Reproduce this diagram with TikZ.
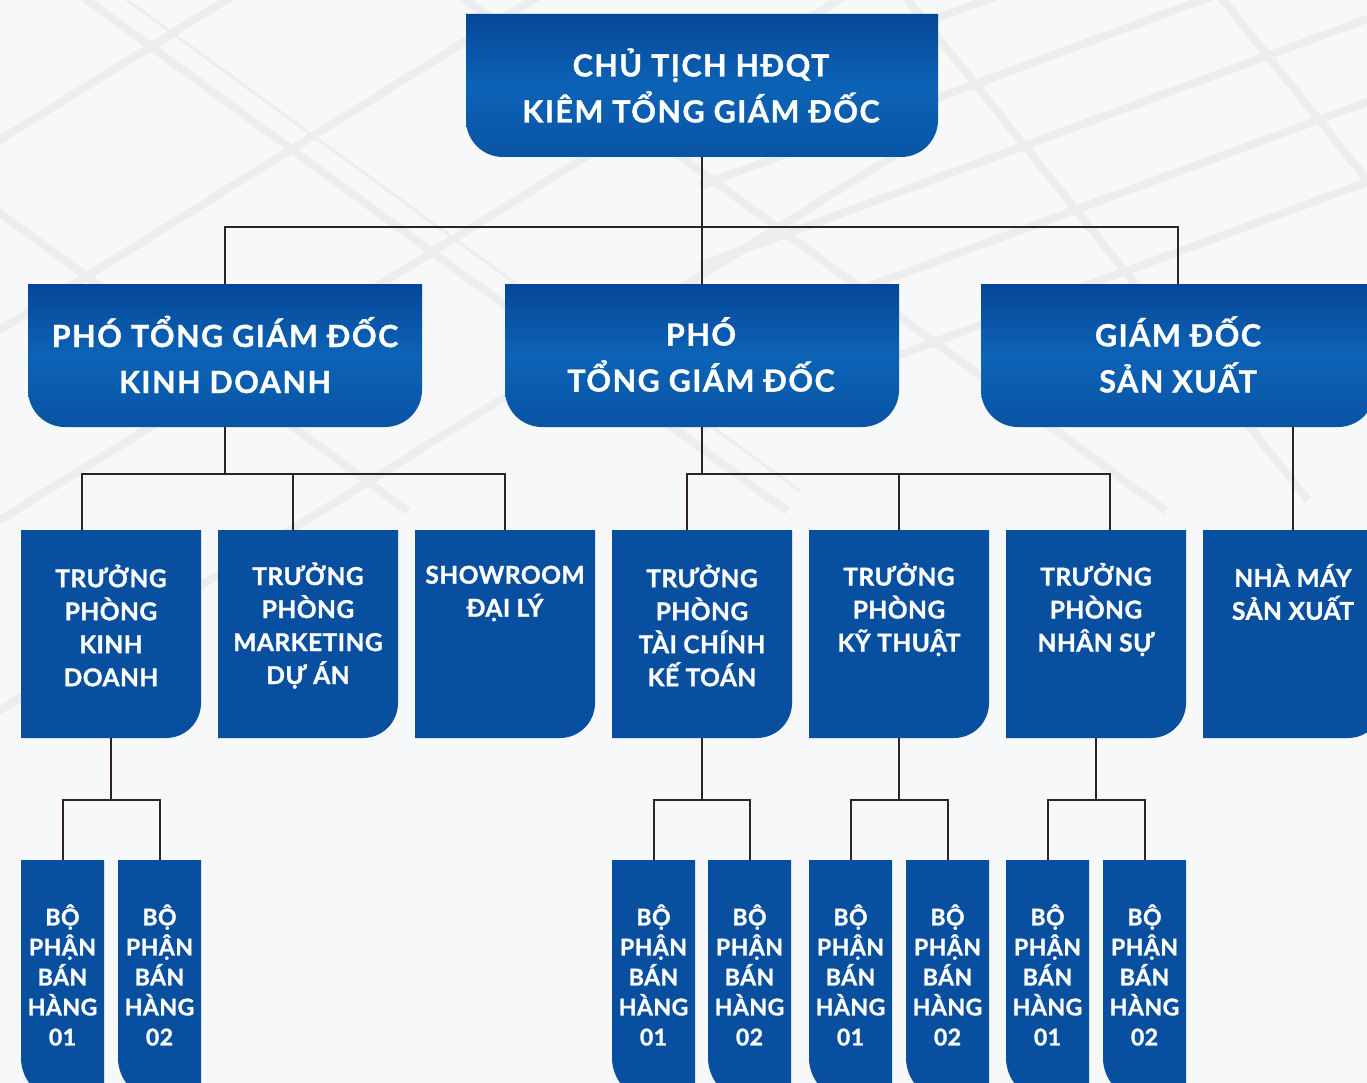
\documentclass[tikz,border=0pt]{standalone}
\usepackage{fontspec}
\setmainfont{Lato}[BoldFeatures={FakeBold=1.2}]
\newfontfamily\bigfont{Lato}[LetterSpace=5,BoldFeatures={FakeBold=1.2}]
\newfontfamily\midfont{Lato}[LetterSpace=2,BoldFeatures={FakeBold=1.2}]
\usetikzlibrary{calc}
\definecolor{bgcol}{RGB}{246,248,250}
\definecolor{beamcol}{RGB}{235,237,238}
\definecolor{boxblue}{RGB}{8,79,160}
\definecolor{gtop}{RGB}{6,70,152}
\definecolor{gmid}{RGB}{12,99,182}
\definecolor{gbot}{RGB}{8,84,164}
\definecolor{linecol}{RGB}{46,36,34}
% bottom-left and bottom-right rounded
\newcommand\orgBB[6]{\path[#1] (#2,#3) -- (#4,#3) -- (#4,#5-#6) .. controls (#4,#5-0.448*#6) and (#4-0.448*#6,#5) .. (#4-#6,#5) -- (#2+#6,#5) .. controls (#2+0.448*#6,#5) and (#2,#5-0.448*#6) .. (#2,#5-#6) -- cycle;}
% bottom-right rounded
\newcommand\orgBR[6]{\path[#1] (#2,#3) -- (#4,#3) -- (#4,#5-#6) .. controls (#4,#5-0.448*#6) and (#4-0.448*#6,#5) .. (#4-#6,#5) -- (#2,#5) -- cycle;}
% bottom-left rounded
\newcommand\orgBL[6]{\path[#1] (#2,#3) -- (#4,#3) -- (#4,#5) -- (#2+#6,#5) .. controls (#2+0.448*#6,#5) and (#2,#5-0.448*#6) .. (#2,#5-#6) -- cycle;}
\begin{document}
\begin{tikzpicture}[x=1pt,y=-1pt,
  gradbox/.style={top color=gtop,bottom color=gbot,middle color=gmid},
  flatbox/.style={fill=boxblue},
  frame/.style={rectangle,inner sep=0pt,outer sep=0pt,draw=none},
  conn/.style={draw=linecol,line width=2pt},
  bigtxt/.style={text=white,align=center,inner sep=0pt,font=\bigfont\bfseries\fontsize{30.5}{46}\selectfont},
  midtxt/.style={text=white,align=center,inner sep=0pt,font=\midfont\bfseries\fontsize{24.5}{33}\selectfont},
  smalltxt/.style={text=white,align=center,inner sep=0pt,font=\midfont\bfseries\fontsize{23}{30}\selectfont},
  beam/.style={draw=beamcol,line width=8pt}]
\useasboundingbox (0,0) rectangle (1367,1083);
\begin{scope}
\clip (0,0) rectangle (1367,1083);
\fill[bgcol] (0,0) rectangle (1367,1083);
% faint background beams
\foreach \c in {140,330,520,710}{\draw[beam] (-20,\c+12.4) -- (900,\c-558);}
\foreach \d in {-292,87,466}{\draw[beam] (\d-20,-14.6) -- (\d+700,511);}
\draw[beam,line width=3pt] (127,0) -- (800,491);
\foreach \c in {17,97,177,260,340}{\draw[beam] (700,\c+88.8) -- (1400,\c-170.2);}
\foreach \e in {908,1223}{\draw[beam] (\e-10,-12.5) -- (\e+400,500);}
% ---------- level 1 ----------
\orgBB{gradbox}{466}{14}{938}{157}{37}
\node[frame,minimum width=472,minimum height=143] (ceo) at (702,85.5) {};
\node[bigtxt] (tceo) at (701,85.5) {CHỦ TỊCH HĐQT\\KIÊM TỔNG GIÁM ĐỐC};
% ---------- level 2 ----------
\orgBB{gradbox}{28}{284}{422}{427}{37}
\orgBB{gradbox}{505}{284}{899}{427}{37}
\orgBB{gradbox}{981}{284}{1375}{427}{37}
\node[frame,minimum width=394,minimum height=143] (pA) at (225,355.5) {};
\node[frame,minimum width=394,minimum height=143] (pB) at (702,355.5) {};
\node[frame,minimum width=394,minimum height=143] (pC) at (1178,355.5) {};
\node[bigtxt] (tA) at (225,354.5) {PHÓ TỔNG GIÁM ĐỐC\\KINH DOANH};
\node[bigtxt] (tB) at (701,354.5) {PHÓ\\TỔNG GIÁM ĐỐC};
\node[bigtxt] (tC) at (1178,354.5) {GIÁM ĐỐC\\SẢN XUẤT};
% ---------- level 3 ----------
\foreach \x [count=\i] in {21,218,415,612,809,1006,1203}{
  \orgBR{flatbox}{\x}{530}{\x+180}{738}{35}
  \node[frame,minimum width=180,minimum height=208] (k\i) at (\x+90,634) {};
}
\node[midtxt] (t1) at (111,625.5) {TRƯỞNG\\PHÒNG\\KINH\\DOANH};
\node[midtxt] (t2) at (308,625.5) {TRƯỞNG\\PHÒNG\\MARKETING\\DỰ ÁN};
\node[midtxt] (t3) at (505,593.5) {SHOWROOM\\ĐẠI LÝ};
\node[midtxt] (t4) at (702,625.5) {TRƯỞNG\\PHÒNG\\TÀI CHÍNH\\KẾ TOÁN};
\node[midtxt] (t5) at (899,609.5) {TRƯỞNG\\PHÒNG\\KỸ THUẬT};
\node[midtxt] (t6) at (1096,609.5) {TRƯỞNG\\PHÒNG\\NHÂN SỰ};
\node[midtxt] (t7) at (1293,592) {NHÀ MÁY\\SẢN XUẤT};
% ---------- level 4 ----------
\foreach \x/\n [count=\i] in {21/01,118/02,612/01,708/02,809/01,906/02,1006/01,1103/02}{
  \orgBL{flatbox}{\x}{860}{\x+83}{1100}{42}
  \node[frame,minimum width=83,minimum height=240] (b\i) at (\x+41.5,980) {};
  \node[smalltxt] (tb\i) at (\x+41.5,975) {BỘ\\PHẬN\\BÁN\\HÀNG\\\n};
}
% ---------- connectors ----------
\draw[conn] (ceo.south) -- ++(0,70) coordinate (j1);
\draw[conn] (pA.north) |- (j1) -| (pC.north);
\draw[conn] (j1) -- (pB.north);
\draw[conn] (pA.south) -- ++(0,47) coordinate (j2);
\draw[conn] ($(k1.north west)+(61,0)$) |- (j2) -| (k3.north);
\draw[conn] (j2) -| ($(k2.north west)+(75,0)$);
\draw[conn] (pB.south) -- ++(0,47) coordinate (j3);
\draw[conn] ($(k4.north west)+(75,0)$) |- (j3) -| ($(k6.north west)+(104,0)$);
\draw[conn] (j3) -| (k5.north);
\draw[conn] ($(pC.south west)+(312,0)$) -- (k7.north);
\draw[conn] (k1.south) -- ++(0,62) coordinate (j4);
\draw[conn] (b1.north) |- (j4) -| (b2.north);
\draw[conn] (k4.south) -- ++(0,62) coordinate (j5);
\draw[conn] (b3.north) |- (j5) -| (b4.north);
\draw[conn] (k5.south) -- ++(0,62) coordinate (j6);
\draw[conn] (b5.north) |- (j6) -| (b6.north);
\draw[conn] (k6.south) -- ++(0,62) coordinate (j7);
\draw[conn] (b7.north) |- (j7) -| (b8.north);
\end{scope}
\end{tikzpicture}
\end{document}
